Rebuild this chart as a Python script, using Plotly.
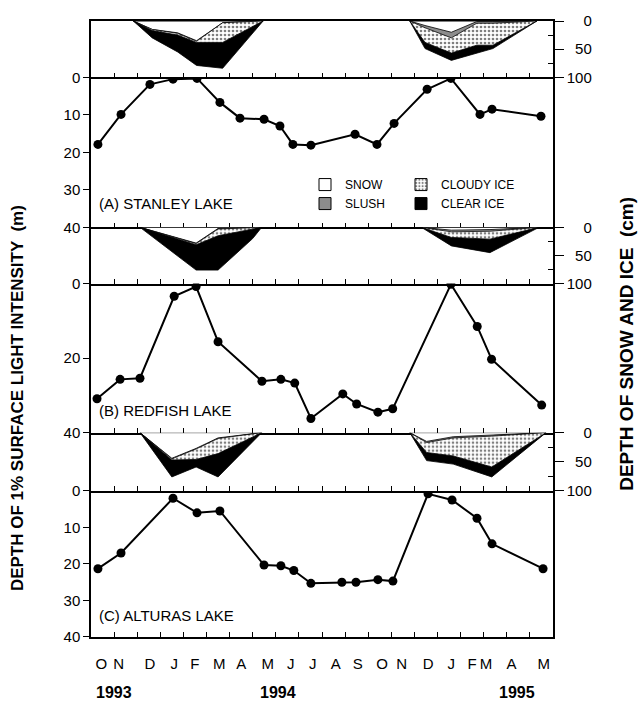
import plotly.graph_objects as go

# ---- x positions: months counted from 1 Oct 1993 (0) to 1 Jun 1995 (20)
month_labels = ["O", "N", "D", "J", "F", "M", "A", "M", "J", "J",
                "A", "S", "O", "N", "D", "J", "F", "M", "A", "M"]
month_label_pos = [0.45, 1.2, 2.55, 3.6, 4.5, 5.55, 6.5, 7.65, 8.65, 9.6,
                   10.6, 11.55, 12.6, 13.45, 14.6, 15.6, 16.5, 17.1, 18.2, 19.6]
month_ticks = list(range(1, 20))
year_labels = ["1993", "1994", "1995"]
year_pos = [1.0, 8.1, 18.45]
ice_ticks = [0, 50, 100]
ice_tick_text = ["\u2007\u20070", "\u200750", "100"]

# ---- depth of 1% surface light intensity (m)
stanley_t = [0.30, 1.30, 2.55, 3.55, 4.59, 5.58, 6.45, 7.49, 8.18, 8.74,
             9.52, 11.43, 12.38, 13.12, 14.55, 15.58, 16.84, 17.36, 19.48]
stanley_depth = [17.9, 9.9, 1.9, 0.5, 0.3, 6.7, 10.9, 11.2, 13.0, 17.9,
                 18.1, 15.2, 17.9, 12.3, 3.2, 0.3, 9.9, 8.5, 10.4]

redfish_t = [0.26, 1.26, 2.12, 3.60, 4.55, 5.50, 7.40, 8.22, 8.82, 9.52,
             10.90, 11.50, 12.42, 13.06, 15.58, 16.72, 17.34, 19.51]
redfish_depth = [30.9, 25.7, 25.4, 3.4, 0.8, 15.6, 26.2, 25.7, 26.7, 36.2,
                 29.6, 32.3, 34.5, 33.6, 0.2, 11.5, 20.3, 32.6]

alturas_t = [0.30, 1.30, 3.55, 4.59, 5.58, 7.49, 8.22, 8.78, 9.52, 10.86,
             11.47, 12.42, 13.07, 14.59, 15.63, 16.71, 17.36, 19.57]
alturas_depth = [21.3, 17.0, 2.0, 6.0, 5.5, 20.3, 20.5, 21.8, 25.3, 25.0,
                 25.0, 24.3, 24.7, 0.8, 2.5, 7.5, 14.5, 21.3]

# ---- snow and ice cover (cumulative depth of the bottom of each layer, cm)
# Stanley 1993-94
stanley_ice1_t = [1.83, 2.65, 3.75, 4.57, 5.70, 7.17, 7.45]
stanley_ice1_snow = [0, 15, 21, 35, 3, 0, 0]
stanley_ice1_slush = [0, 15, 22, 36, 3, 0, 0]
stanley_ice1_cloudy = [0, 17, 25, 38, 38, 6, 0]
stanley_ice1_clear = [0, 30, 55, 79, 84, 14, 0]
# Stanley 1994-95
stanley_ice2_t = [13.8, 14.46, 15.6, 16.7, 17.4, 19.3]
stanley_ice2_snow = [0, 8, 20, 1, 1, 0]
stanley_ice2_slush = [0, 12, 30, 4, 4, 0]
stanley_ice2_cloudy = [0, 38, 57, 43, 43, 0]
stanley_ice2_clear = [0, 49, 70, 57, 49, 0]
# Redfish 1993-94
redfish_ice1_t = [2.12, 4.55, 5.50, 7.00, 7.39]
redfish_ice1_snow = [0, 28, 2, 0, 0]
redfish_ice1_slush = [0, 29, 3, 0, 0]
redfish_ice1_cloudy = [0, 31, 15, 3, 0]
redfish_ice1_clear = [0, 76, 76, 20, 0]
# Redfish 1994-95
redfish_ice2_t = [14.3, 15.6, 17.27, 19.4]
redfish_ice2_snow = [0, 5, 4, 0]
redfish_ice2_slush = [0, 8, 7, 0]
redfish_ice2_cloudy = [0, 18, 21, 0]
redfish_ice2_clear = [0, 33, 45, 0]
# Alturas 1993-94
alturas_ice1_t = [2.12, 3.50, 4.55, 5.50, 7.39]
alturas_ice1_snow = [0, 44, 27, 9, 0]
alturas_ice1_slush = [0, 45, 28, 10, 0]
alturas_ice1_cloudy = [0, 47, 46, 36, 0]
alturas_ice1_clear = [0, 76, 59, 76, 0]
# Alturas 1994-95
alturas_ice2_t = [13.8, 14.53, 15.68, 17.35, 19.7]
alturas_ice2_snow = [0, 15, 7, 4, 0]
alturas_ice2_slush = [0, 17, 9, 6, 0]
alturas_ice2_cloudy = [0, 34, 40, 59, 0]
alturas_ice2_clear = [0, 48, 54, 76, 0]

lakes = ["(A) STANLEY LAKE", "(B) REDFISH LAKE", "(C) ALTURAS LAKE"]
layer_names = ["SNOW", "SLUSH", "CLOUDY ICE", "CLEAR ICE"]

FONT = "Liberation Sans, Arial, sans-serif"
W, H = 641, 704
ML, MR, MT, MB = 91, 88, 13, 67
PH = H - MT - MB
PW = W - ML - MR

# panel pixel bounds (from top of plot area)
bounds = [(0, 57), (57, 209), (209, 266), (266, 417), (417, 476), (476, PH)]


def dom(b):
    return [1 - b[1] / PH, 1 - b[0] / PH]


def py(p):
    return 1 - (p - MT) / PH


def px(p):
    return (p - ML) / PW


fig = go.Figure()

layer_style = [
    dict(fillcolor="white"),
    dict(fillcolor="#8c8c8c"),
    dict(fillcolor="white", fillpattern=dict(shape=".", fgcolor="black", bgcolor="white",
                                             size=4, solidity=0.35)),
    dict(fillcolor="black"),
]


def add_ice(axn, t, layers):
    xa, ya = f"x{axn}", f"y{axn}"
    fig.add_trace(go.Scatter(x=t, y=[0] * len(t), mode="lines",
                             line=dict(color="black", width=1),
                             xaxis=xa, yaxis=ya, showlegend=False, hoverinfo="skip"))
    for vals, st, nm in zip(layers, layer_style, layer_names):
        fig.add_trace(go.Scatter(x=t, y=vals, mode="lines", fill="tonexty",
                                 line=dict(color="black", width=0.8),
                                 xaxis=xa, yaxis=ya, showlegend=False, name=nm,
                                 hoverinfo="skip", **st))


def add_line(axn, t, d):
    fig.add_trace(go.Scatter(x=t, y=d, mode="lines+markers",
                             line=dict(color="black", width=2),
                             marker=dict(color="black", size=9),
                             xaxis=f"x{axn}", yaxis=f"y{axn}", showlegend=False))


add_ice(1, stanley_ice1_t, [stanley_ice1_snow, stanley_ice1_slush, stanley_ice1_cloudy, stanley_ice1_clear])
add_ice(1, stanley_ice2_t, [stanley_ice2_snow, stanley_ice2_slush, stanley_ice2_cloudy, stanley_ice2_clear])
add_line(2, stanley_t, stanley_depth)
add_ice(3, redfish_ice1_t, [redfish_ice1_snow, redfish_ice1_slush, redfish_ice1_cloudy, redfish_ice1_clear])
add_ice(3, redfish_ice2_t, [redfish_ice2_snow, redfish_ice2_slush, redfish_ice2_cloudy, redfish_ice2_clear])
add_line(4, redfish_t, redfish_depth)
add_ice(5, alturas_ice1_t, [alturas_ice1_snow, alturas_ice1_slush, alturas_ice1_cloudy, alturas_ice1_clear])
add_ice(5, alturas_ice2_t, [alturas_ice2_snow, alturas_ice2_slush, alturas_ice2_cloudy, alturas_ice2_clear])
add_line(6, alturas_t, alturas_depth)

# legend swatches (square icons)
legend_marker = [
    dict(color="white", line=dict(color="black", width=1)),
    dict(color="#8c8c8c", line=dict(color="black", width=1)),
    dict(color="white", line=dict(color="black", width=1),
         pattern=dict(shape=".", fgcolor="black", bgcolor="white", size=4, solidity=0.35)),
    dict(color="black", line=dict(color="black", width=1)),
]
for i, (nm, mk) in enumerate(zip(layer_names, legend_marker)):
    fig.add_trace(go.Bar(x=[None], y=[None], name=nm, marker=mk,
                         xaxis="x2", yaxis="y2", showlegend=True,
                         legend="legend" if i < 2 else "legend2"))

axis_common = dict(showline=True, linecolor="black", linewidth=1.5,
                   showgrid=False, zeroline=False)
layout = dict(width=W, height=H, margin=dict(l=ML, r=MR, t=MT, b=MB),
              plot_bgcolor="white", paper_bgcolor="white",
              font=dict(family=FONT, size=15, color="black"),
              barmode="overlay")

for i in range(6):
    n = i + 1
    xa = dict(axis_common, domain=[0, 1], range=[0, 20], anchor=f"y{n}",
              mirror=(n == 1),
              tickmode="array", tickvals=month_ticks, ticks="inside", ticklen=5,
              tickwidth=1.2, tickcolor="black", showticklabels=False)
    if n == 6:
        xa.update(tickvals=month_label_pos, ticktext=month_labels, ticks="",
                  showticklabels=True, ticklabelstandoff=12,
                  tickfont=dict(family=FONT, size=15),
                  minor=dict(tickvals=month_ticks, ticks="inside", ticklen=5,
                             tickwidth=1.2, tickcolor="black"))
    ya = dict(axis_common, domain=dom(bounds[i]), anchor=f"x{n}", mirror=True,
              tickfont=dict(family=FONT, size=15))
    if i % 2 == 0:  # ice panel
        ya.update(side="right", range=[100, 0], tickmode="array", tickvals=ice_ticks,
                  ticktext=ice_tick_text,
                  ticks="outside", ticklen=9, tickwidth=1.2, tickcolor="black",
                  minor=dict(tickvals=[25, 75], ticks="inside", ticklen=5,
                             tickwidth=1.2, tickcolor="black"))
    else:
        tv = [0, 20, 40] if n == 4 else [0, 10, 20, 30, 40]
        ya.update(side="left", range=[40, 0], tickmode="array", tickvals=tv,
                  ticks="outside", ticklen=6, tickwidth=1.2, tickcolor="black")
    layout[f"xaxis{n}" if n > 1 else "xaxis"] = xa
    layout[f"yaxis{n}" if n > 1 else "yaxis"] = ya

leg_common = dict(bgcolor="rgba(0,0,0,0)", borderwidth=0, xanchor="left", yanchor="top",
                  font=dict(family=FONT, size=12), tracegroupgap=0, itemwidth=30,
                  traceorder="normal")
layout["legend"] = dict(leg_common, x=px(305), y=py(164))
layout["legend2"] = dict(leg_common, x=px(401), y=py(164))

annotations = []
lake_label_y = [198, 408, 615]
for name, yy in zip(lakes, lake_label_y):
    annotations.append(dict(text=name, x=px(97), y=py(yy), xref="paper", yref="paper",
                            xanchor="left", yanchor="middle", showarrow=False,
                            font=dict(family=FONT, size=15)))
for yl, xp in zip(year_labels, year_pos):
    annotations.append(dict(text=f"<b>{yl}</b>", x=xp, y=py(693), xref="x6", yref="paper",
                            xanchor="center", yanchor="middle", showarrow=False,
                            font=dict(family=FONT, size=16)))
annotations.append(dict(text="<b>DEPTH OF 1% SURFACE LIGHT INTENSITY  (m)</b>",
                        x=px(17), y=py(395), xref="paper", yref="paper", textangle=-90,
                        xanchor="center", yanchor="middle", showarrow=False,
                        font=dict(family=FONT, size=17)))
annotations.append(dict(text="<b>DEPTH OF SNOW AND ICE  (cm)</b>",
                        x=px(627), y=py(340), xref="paper", yref="paper", textangle=-90,
                        xanchor="center", yanchor="middle", showarrow=False,
                        font=dict(family=FONT, size=19)))
layout["annotations"] = annotations

fig.update_layout(**layout)
fig.write_html("out.html")
